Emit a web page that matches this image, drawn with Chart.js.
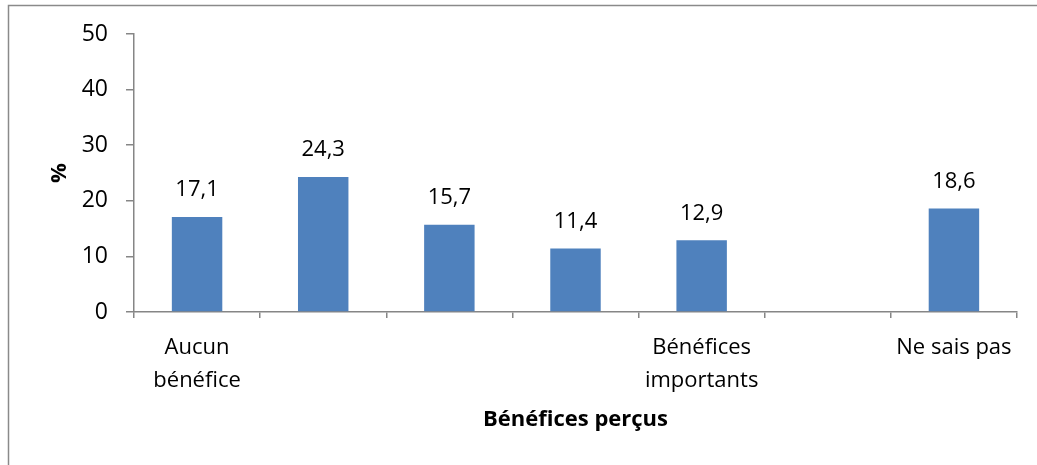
<!DOCTYPE html>
<html>
<head>
<meta charset="utf-8">
<script src="https://cdn.jsdelivr.net/npm/chart.js@4"></script>
<style>
html,body{margin:0;padding:0;background:#fff;}
#wrap{position:absolute;left:0;top:0;width:1037px;height:465px;}
</style>
</head>
<body>
<div id="wrap"><canvas id="c" width="1037" height="465"></canvas></div>
<script>
const categories = [["Aucun","bénéfice"], "", "", "", ["Bénéfices","importants"], "", "Ne sais pas"];
const values = [17.1, 24.3, 15.7, 11.4, 12.9, null, 18.6];
const yTicks = [0, 10, 20, 30, 40, 50];
const xTitle = "Bénéfices perçus";
const yTitle = "%";

const FONT = "'Open Sans', 'Liberation Sans', sans-serif";
const AXIS = "#868686";

const frame = {
  id: 'frame',
  beforeDraw(chart) {
    const ctx = chart.ctx;
    ctx.save();
    ctx.fillStyle = '#fff';
    ctx.fillRect(0, 0, chart.width, chart.height);
    ctx.strokeStyle = '#8a8a8a';
    ctx.lineWidth = 1.5;
    ctx.beginPath();
    ctx.moveTo(8.5, chart.height);
    ctx.lineTo(8.5, 5.5);
    ctx.lineTo(chart.width, 5.5);
    ctx.stroke();
    ctx.restore();
  }
};

const dataLabels = {
  id: 'dataLabels',
  afterDatasetsDraw(chart) {
    const ctx = chart.ctx;
    const meta = chart.getDatasetMeta(0);
    ctx.save();
    ctx.font = "22px " + FONT;
    ctx.fillStyle = '#000';
    ctx.textAlign = 'center';
    ctx.textBaseline = 'middle';
    meta.data.forEach((bar, i) => {
      const v = values[i];
      if (v === null || v === undefined) return;
      ctx.fillText(v.toFixed(1).replace('.', ','), bar.x, bar.y - 27);
    });
    ctx.restore();
  }
};

new Chart(document.getElementById('c'), {
  type: 'bar',
  data: {
    labels: categories,
    datasets: [{
      data: values,
      backgroundColor: '#4F81BD',
      borderWidth: 0,
      categoryPercentage: 1.0,
      barPercentage: 0.4
    }]
  },
  options: {
    responsive: false,
    animation: false,
    events: [],
    layout: { padding: { top: 34, right: 20, left: 0, bottom: 0 } },
    plugins: { legend: { display: false }, tooltip: { enabled: false } },
    scales: {
      x: {
        offset: true,
        grid: { display: true, offset: true, drawOnChartArea: false, drawTicks: true, tickLength: 6, color: AXIS, lineWidth: 1.5 },
        border: { display: true, color: AXIS, width: 1.5 },
        ticks: { color: '#000', font: { family: FONT, size: 22, lineHeight: 1.5 }, padding: 13, maxRotation: 0, autoSkip: false },
        title: { display: true, text: xTitle, color: '#000', font: { family: FONT, size: 22, weight: 'bold' }, padding: { bottom: 32 } },
        afterFit(scale) { scale.height = 153; }
      },
      y: {
        min: 0, max: 50,
        afterBuildTicks(scale) { scale.ticks = yTicks.map(v => ({ value: v })); },
        grid: { display: true, drawOnChartArea: false, drawTicks: true, tickLength: 8, color: AXIS, lineWidth: 1.5 },
        border: { display: true, color: AXIS, width: 1.5 },
        ticks: { color: '#000', font: { family: FONT, size: 23 }, padding: 18 },
        title: { display: true, text: yTitle, color: '#000', font: { family: FONT, size: 22, weight: 'bold' }, padding: { top: 47 } },
        afterFit(scale) { scale.width = 134; }
      }
    }
  },
  plugins: [frame, dataLabels]
});
</script>
</body>
</html>
